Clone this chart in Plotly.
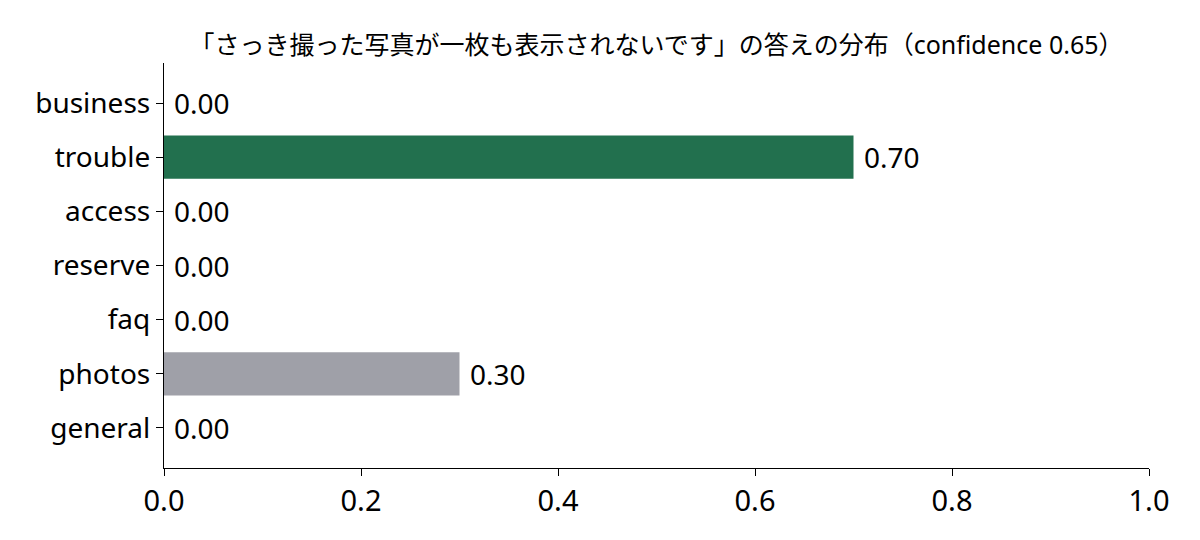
import plotly.graph_objects as go

categories = ["business", "trouble", "access", "reserve", "faq", "photos", "general"]
values = [0.00, 0.70, 0.00, 0.00, 0.00, 0.30, 0.00]
colors = ["#9fa0a8", "#22704e", "#9fa0a8", "#9fa0a8", "#9fa0a8", "#9fa0a8", "#9fa0a8"]
x_ticks = [0.0, 0.2, 0.4, 0.6, 0.8, 1.0]
title = "「さっき撮った写真が一枚も表示されないです」の答えの分布（confidence 0.65）"

FONT = "Noto Sans, Noto Sans CJK JP, sans-serif"

fig = go.Figure()
fig.add_trace(go.Bar(
    x=values, y=list(range(len(categories))), orientation="h",
    marker=dict(color=colors, line=dict(width=0)), width=0.8,
    hoverinfo="skip",
))

for i, v in enumerate(values):
    fig.add_annotation(x=v, y=i, text=f"{v:.2f}", showarrow=False,
                       xanchor="left", yanchor="middle", xshift=8,
                       font=dict(family=FONT, size=28, color="#000"))

fig.update_layout(
    width=1200, height=540,
    margin=dict(l=164, r=51, t=63, b=72),
    plot_bgcolor="white", paper_bgcolor="white",
    showlegend=False,
    title=dict(text=title, x=(164 + 1149) / 2 / 1200, xanchor="center",
               y=1 - 45 / 540, yanchor="middle",
               font=dict(family=FONT, size=25, color="#000")),
    font=dict(family=FONT, color="#000"),
)
fig.update_xaxes(range=[0, 1.0], tickvals=x_ticks,
                 ticktext=[f"{t:.1f}" for t in x_ticks],
                 showgrid=False, zeroline=False, showline=True,
                 linecolor="#000", linewidth=1.3, ticks="outside",
                 ticklen=7, tickwidth=1.3, tickcolor="#000",
                 tickfont=dict(family=FONT, size=29, color="#000"))
fig.update_yaxes(range=[6.74, -0.74], tickvals=list(range(len(categories))),
                 ticktext=categories,
                 showgrid=False, zeroline=False, showline=True,
                 linecolor="#000", linewidth=1.3, ticks="outside",
                 ticklen=7, tickwidth=1.3, tickcolor="#000",
                 tickfont=dict(family=FONT, size=28, color="#000"))

fig.write_html("out.html", config={"displayModeBar": False},
               post_script="document.body.style.margin='0';")
